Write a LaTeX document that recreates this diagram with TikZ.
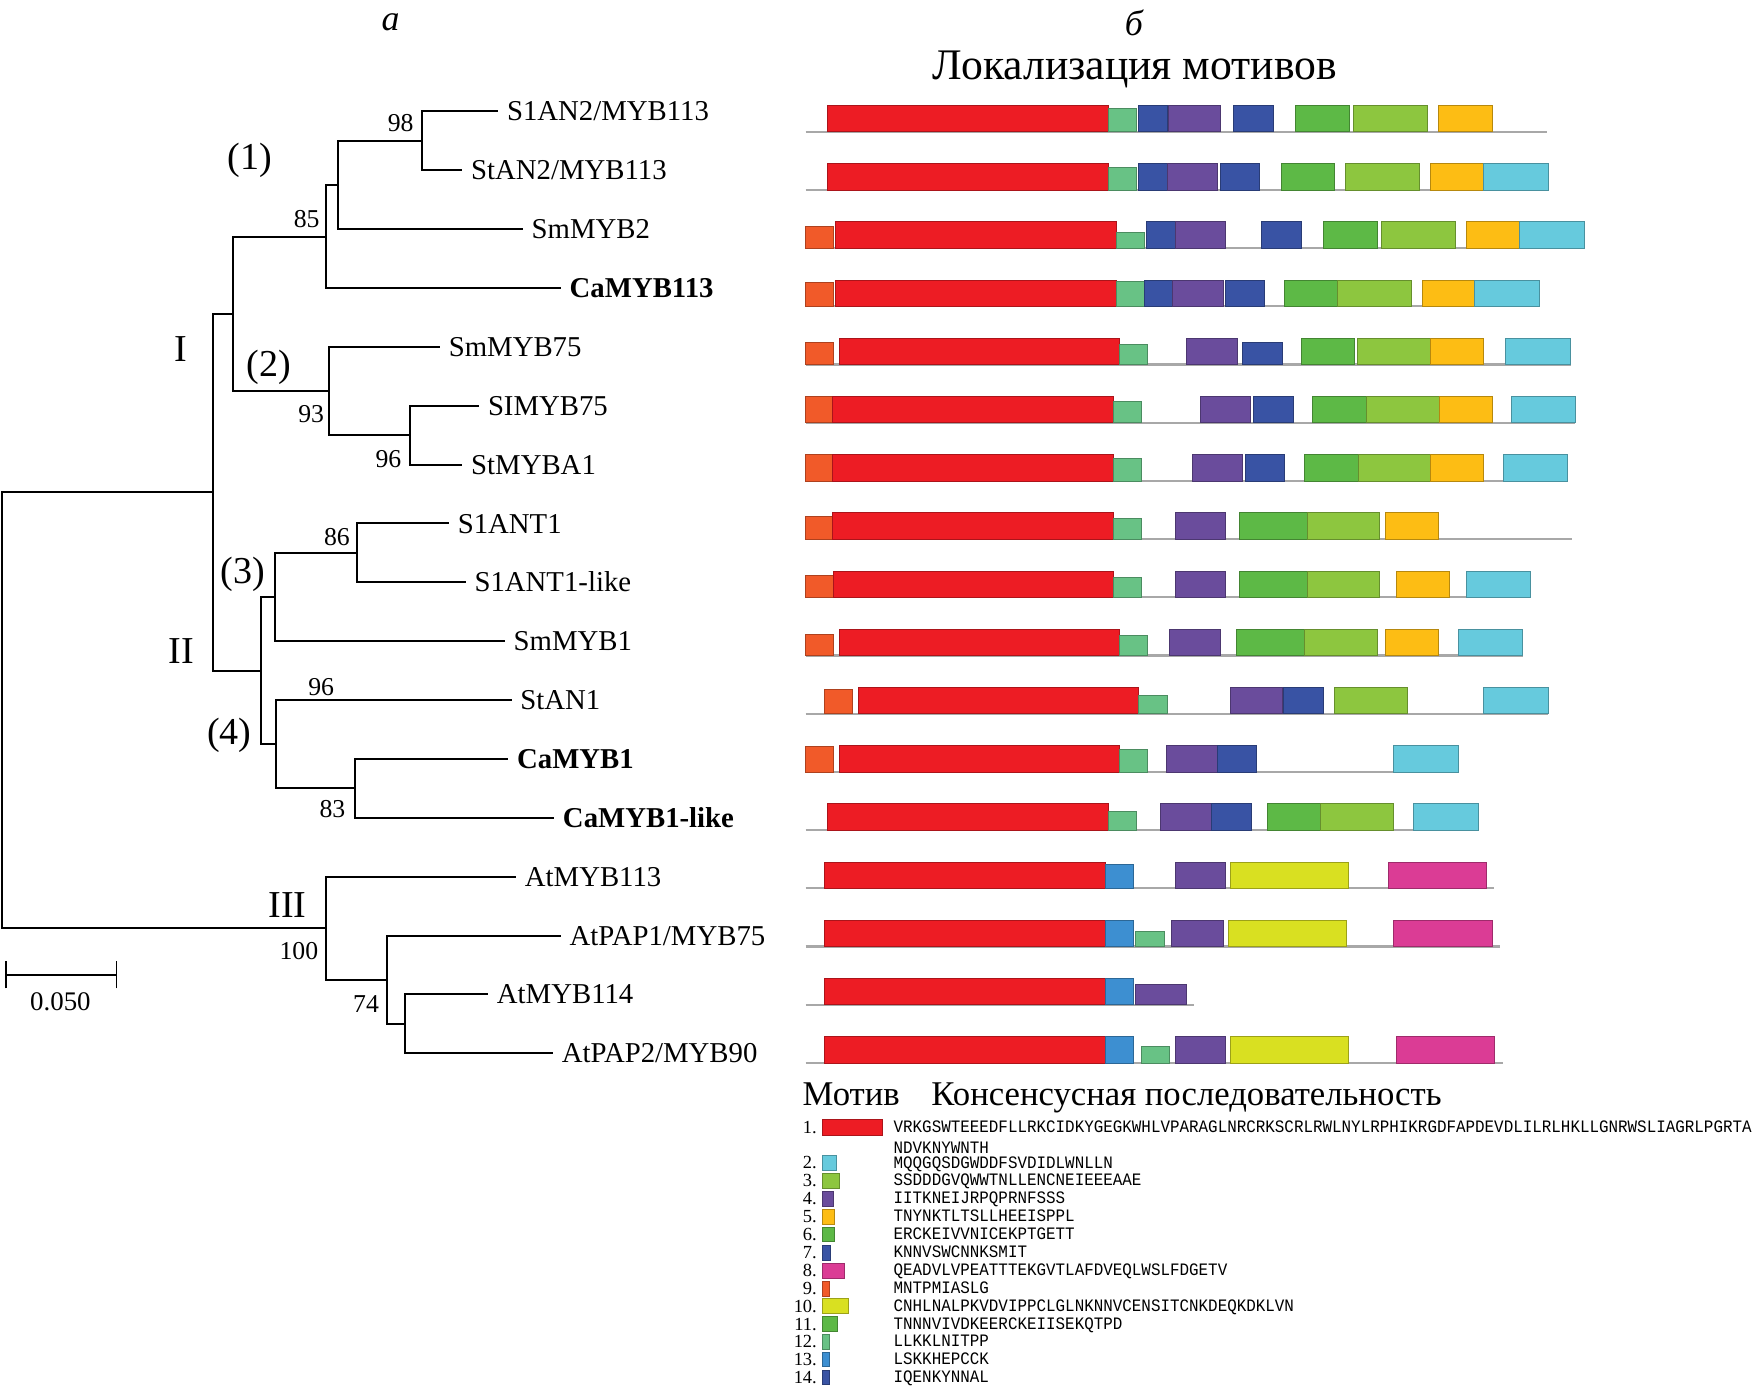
\documentclass[tikz,border=0pt]{standalone}
\usepackage{fontspec}
\setmainfont{Liberation Serif}
\newfontfamily\seqfont[FakeStretch=0.91]{Liberation Mono}
\definecolor{mRD}{HTML}{ED1C24}
\definecolor{mLG}{HTML}{68C285}
\definecolor{mDB}{HTML}{3953A4}
\definecolor{mPU}{HTML}{6A4C9C}
\definecolor{mGR}{HTML}{5DB946}
\definecolor{mYG}{HTML}{8DC63F}
\definecolor{mYE}{HTML}{FDBD14}
\definecolor{mCY}{HTML}{66CADD}
\definecolor{mOR}{HTML}{F15A29}
\definecolor{mMB}{HTML}{3D8FD1}
\definecolor{mLI}{HTML}{D9E021}
\definecolor{mMG}{HTML}{DB3C95}
\definecolor{gl}{HTML}{A8A8A8}
\newcommand\gline[2]{\draw[line width=2pt, gl] (719.7,#1) -- (#2,#1);}
\newcommand\mb[5]{\filldraw[fill=#4, draw=#4!72!black, line width=0.5pt] (#2,#1) rectangle (#3,{#1-23.5*#5});}
\newcommand\sw[4]{\filldraw[fill=#4, draw=#4!72!black, line width=0.5pt] (734.5,{#1-#3}) rectangle (#2,{#1+#3});}
\tikzset{
  br/.style={line width=1.8pt},
  leaf/.style={anchor=west, inner xsep=8pt, inner ysep=0pt, outer sep=0pt, text height=17pt, text depth=0pt, font=\fontsize{25.7}{25.7}\selectfont},
  boot/.style={inner sep=0pt, font=\fontsize{23}{23}\selectfont},
  clade/.style={inner sep=0pt, font=\fontsize{34}{34}\selectfont},
  lnum/.style={anchor=base east, inner sep=0pt, font=\fontsize{16.5}{16.5}\selectfont},
  lseq/.style={anchor=base west, inner sep=0pt, font=\seqfont\fontsize{15.6}{15.6}\selectfont},
}
\begin{document}
\begin{tikzpicture}[x=1pt, y=-1pt]
\useasboundingbox (0,0) rectangle (1568,1243);
% ---------- titles
\node[inner sep=0pt, font=\fontsize{32}{32}\selectfont\itshape] (ta) at (349,20) {а};
\node[inner sep=0pt, font=\fontsize{32}{32}\selectfont\itshape] (tb) at (1013,20) {б};
\node[inner sep=0pt, font=\fontsize{39}{39}\selectfont] (tloc) at (1014,62) {Локализация мотивов};
% ---------- leaves
\node[leaf] (L1) at (445,99.5) {S1AN2/MYB113};
\node[leaf] (L2) at (413,152.1) {StAN2/MYB113};
\node[leaf] (L3) at (467,204.7) {SmMYB2};
\node[leaf] (L4) at (501,257.3) {\bfseries CaMYB113};
\node[leaf] (L5) at (393,309.9) {SmMYB75};
\node[leaf] (L6) at (428,362.5) {SIMYB75};
\node[leaf] (L7) at (413,415.1) {StMYBA1};
\node[leaf] (L8) at (401,467.7) {S1ANT1};
\node[leaf] (L9) at (416,520.3) {S1ANT1-like};
\node[leaf] (L10) at (451,572.9) {SmMYB1};
\node[leaf] (L11) at (457,625.5) {StAN1};
\node[leaf] (L12) at (454,678.1) {\bfseries CaMYB1};
\node[leaf] (L13) at (495,730.7) {\bfseries CaMYB1-like};
\node[leaf] (L14) at (461,783.3) {AtMYB113};
\node[leaf] (L15) at (501,835.9) {AtPAP1/MYB75};
\node[leaf] (L16) at (436,888.5) {AtMYB114};
\node[leaf] (L17) at (494,941.1) {AtPAP2/MYB90};
% ---------- internal nodes
\coordinate (n12) at (377,125.8);
\coordinate (n123) at (302,165.25);
\coordinate (n1234) at (291,211.3);
\coordinate (n67) at (366,388.8);
\coordinate (n567) at (294,349.35);
\coordinate (nI) at (208,280.3);
\coordinate (n89) at (319,494);
\coordinate (n8910) at (246,533.45);
\coordinate (n1213) at (317,704.4);
\coordinate (n111213) at (247,664.95);
\coordinate (nII) at (233,599.2);
\coordinate (nA) at (190,439.75);
\coordinate (n1617) at (362,914.8);
\coordinate (n151617) at (346,875.35);
\coordinate (nIII) at (291,829.3);
\coordinate (root) at (1.5,634.5);
\begin{scope}[br]
\draw (root) |- (nA); \draw (root) |- (nIII);
\draw (nA) |- (nI); \draw (nA) |- (nII);
\draw (nI) |- (n1234); \draw (nI) |- (n567);
\draw (n1234) |- (n123); \draw (n1234) |- (L4);
\draw (n123) |- (n12); \draw (n123) |- (L3);
\draw (n12) |- (L1); \draw (n12) |- (L2);
\draw (n567) |- (L5); \draw (n567) |- (n67);
\draw (n67) |- (L6); \draw (n67) |- (L7);
\draw (nII) |- (n8910); \draw (nII) |- (n111213);
\draw (n8910) |- (n89); \draw (n8910) |- (L10);
\draw (n89) |- (L8); \draw (n89) |- (L9);
\draw (n111213) |- (L11); \draw (n111213) |- (n1213);
\draw (n1213) |- (L12); \draw (n1213) |- (L13);
\draw (nIII) |- (L14); \draw (nIII) |- (n151617);
\draw (n151617) |- (L15); \draw (n151617) |- (n1617);
\draw (n1617) |- (L16); \draw (n1617) |- (L17);
\end{scope}
% bootstrap values
\node[boot] (b98) at (358,110) {98};
\node[boot] (b85) at (274,196) {85};
\node[boot] (b93) at (278,370) {93};
\node[boot] (b96a) at (347,410) {96};
\node[boot] (b86) at (301,480) {86};
\node[boot] (b96b) at (287,614) {96};
\node[boot] (b83) at (297,723) {83};
\node[boot] (b100) at (267,850) {100};
\node[boot] (b74) at (327,897) {74};
% clade labels
\node[clade] (c1) at (223,143) {(1)};
\node[clade] (c2) at (240,328) {(2)};
\node[clade] (c3) at (217,513) {(3)};
\node[clade] (c4) at (205,657) {(4)};
\node[clade] (cI) at (162,312) {I};
\node[clade] (cII) at (162,582) {II};
\node[clade] (cIII) at (257,809) {III};
% scale bar
\coordinate (s1) at (5.5,871);
\coordinate (s2) at (104,871);
\draw[line width=1.5pt] (s1) -- (s2);
\draw[line width=1.5pt] ([yshift=-12pt]s1) -- ([yshift=12pt]s1);
\draw[line width=1.5pt] ([yshift=-12pt]s2) -- ([yshift=12pt]s2);
\node[boot, font=\fontsize{24}{24}\selectfont] (sbl) at (54,895) {0.050};
% ---------- motif bars
% row 1
\gline{117.6}{1382.4}
\mb{117.6}{738.9}{989.8}{mRD}{1}
\mb{117.6}{989.8}{1015.1}{mLG}{.9}
\mb{117.6}{1017.3}{1042.5}{mDB}{1}
\mb{117.6}{1044.2}{1090.3}{mPU}{1}
\mb{117.6}{1101.8}{1137.5}{mDB}{1}
\mb{117.6}{1157.3}{1205.6}{mGR}{1}
\mb{117.6}{1209.4}{1275.3}{mYG}{1}
\mb{117.6}{1285.2}{1333}{mYE}{1}
% row 2
\gline{169.6}{1382.9}
\mb{169.6}{738.9}{989.8}{mRD}{1}
\mb{169.6}{989.8}{1015.1}{mLG}{.84}
\mb{169.6}{1017.3}{1042.5}{mDB}{1}
\mb{169.6}{1042.5}{1087.6}{mPU}{1}
\mb{169.6}{1089.8}{1124.9}{mDB}{1}
\mb{169.6}{1144.7}{1192.4}{mGR}{1}
\mb{169.6}{1201.7}{1267.6}{mYG}{1}
\mb{169.6}{1277.5}{1325.3}{mYE}{1}
\mb{169.6}{1325.3}{1382.9}{mCY}{1}
% row 3
\gline{221.6}{1415.3}
\mb{221.6}{719.7}{744.4}{mOR}{.81}
\mb{221.6}{746.6}{997}{mRD}{1}
\mb{221.6}{997}{1022.2}{mLG}{.61}
\mb{221.6}{1024.4}{1050.2}{mDB}{1}
\mb{221.6}{1050.2}{1094.7}{mPU}{1}
\mb{221.6}{1127.1}{1162.8}{mDB}{1}
\mb{221.6}{1182.5}{1230.3}{mGR}{1}
\mb{221.6}{1234.1}{1300.6}{mYG}{1}
\mb{221.6}{1309.9}{1357.7}{mYE}{1}
\mb{221.6}{1357.7}{1415.3}{mCY}{1}
% row 4
\gline{273.6}{1375.2}
\mb{273.6}{719.7}{744.4}{mOR}{.9}
\mb{273.6}{746.6}{997}{mRD}{1}
\mb{273.6}{997}{1022.2}{mLG}{.94}
\mb{273.6}{1022.2}{1047.5}{mDB}{1}
\mb{273.6}{1047.5}{1092.5}{mPU}{1}
\mb{273.6}{1094.7}{1129.8}{mDB}{1}
\mb{273.6}{1147.4}{1195.2}{mGR}{1}
\mb{273.6}{1195.2}{1260.5}{mYG}{1}
\mb{273.6}{1270.4}{1317.6}{mYE}{1}
\mb{273.6}{1317.6}{1375.2}{mCY}{1}
% row 5
\gline{325.6}{1403.2}
\mb{325.6}{719.7}{744.4}{mOR}{.85}
\mb{325.6}{749.4}{999.7}{mRD}{1}
\mb{325.6}{999.7}{1025}{mLG}{.78}
\mb{325.6}{1059.6}{1105.1}{mPU}{1}
\mb{325.6}{1110.1}{1145.2}{mDB}{.85}
\mb{325.6}{1162.2}{1210}{mGR}{1}
\mb{325.6}{1212.7}{1278.1}{mYG}{1}
\mb{325.6}{1278.1}{1325.3}{mYE}{1}
\mb{325.6}{1345}{1403.2}{mCY}{1}
% row 6
\gline{377.6}{1407.6}
\mb{377.6}{719.7}{743.9}{mOR}{1}
\mb{377.6}{743.9}{994.8}{mRD}{1}
\mb{377.6}{994.8}{1020}{mLG}{.8}
\mb{377.6}{1072.2}{1117.2}{mPU}{1}
\mb{377.6}{1120}{1155.1}{mDB}{1}
\mb{377.6}{1172.7}{1220.4}{mGR}{1}
\mb{377.6}{1220.4}{1285.7}{mYG}{1}
\mb{377.6}{1285.7}{1333}{mYE}{1}
\mb{377.6}{1350}{1407.6}{mCY}{1}
% row 7
\gline{429.6}{1400.5}
\mb{429.6}{719.7}{743.9}{mOR}{1}
\mb{429.6}{743.9}{994.8}{mRD}{1}
\mb{429.6}{994.8}{1020}{mLG}{.87}
\mb{429.6}{1065}{1110.1}{mPU}{1}
\mb{429.6}{1112.3}{1147.4}{mDB}{1}
\mb{429.6}{1165}{1213.3}{mGR}{1}
\mb{429.6}{1213.3}{1278.1}{mYG}{1}
\mb{429.6}{1278.1}{1325.3}{mYE}{1}
\mb{429.6}{1342.8}{1400.5}{mCY}{1}
% row 8
\gline{481.6}{1404.9}
\mb{481.6}{719.7}{743.9}{mOR}{.86}
\mb{481.6}{743.9}{994.8}{mRD}{1}
\mb{481.6}{994.8}{1020}{mLG}{.79}
\mb{481.6}{1050.2}{1094.7}{mPU}{1}
\mb{481.6}{1107.3}{1168.3}{mGR}{1}
\mb{481.6}{1168.3}{1232.5}{mYG}{1}
\mb{481.6}{1237.4}{1285.2}{mYE}{1}
% row 9
\gline{533.6}{1367.5}
\mb{533.6}{719.7}{744.4}{mOR}{.84}
\mb{533.6}{744.4}{994.8}{mRD}{1}
\mb{533.6}{994.8}{1020}{mLG}{.76}
\mb{533.6}{1050.2}{1094.7}{mPU}{1}
\mb{533.6}{1107.3}{1168.3}{mGR}{1}
\mb{533.6}{1168.3}{1232.5}{mYG}{1}
\mb{533.6}{1247.9}{1295.1}{mYE}{1}
\mb{533.6}{1310.4}{1367.5}{mCY}{1}
% row 10
\gline{585.6}{1360.4}
\mb{585.6}{719.7}{744.4}{mOR}{.8}
\mb{585.6}{749.4}{999.7}{mRD}{1}
\mb{585.6}{999.7}{1025}{mLG}{.76}
\mb{585.6}{1044.7}{1089.8}{mPU}{1}
\mb{585.6}{1104.6}{1165}{mGR}{1}
\mb{585.6}{1165}{1230.3}{mYG}{1}
\mb{585.6}{1237.4}{1285.2}{mYE}{1}
\mb{585.6}{1302.8}{1360.4}{mCY}{1}
% row 11
\gline{637.6}{1382.9}
\mb{637.6}{736.7}{761.4}{mOR}{.91}
\mb{637.6}{766.9}{1017.3}{mRD}{1}
\mb{637.6}{1017.3}{1042.5}{mLG}{.7}
\mb{637.6}{1099.6}{1145.2}{mPU}{1}
\mb{637.6}{1146.8}{1182.5}{mDB}{1}
\mb{637.6}{1192.4}{1257.7}{mYG}{1}
\mb{637.6}{1325.3}{1382.9}{mCY}{1}
% row 12
\gline{689.6}{1302.8}
\mb{689.6}{719.7}{744.4}{mOR}{.97}
\mb{689.6}{749.4}{999.7}{mRD}{1}
\mb{689.6}{999.7}{1025}{mLG}{.84}
\mb{689.6}{1042}{1087.6}{mPU}{1}
\mb{689.6}{1087.6}{1122.7}{mDB}{1}
\mb{689.6}{1245.1}{1302.8}{mCY}{1}
% row 13
\gline{741.6}{1320.3}
\mb{741.6}{739.5}{989.8}{mRD}{1}
\mb{741.6}{989.8}{1015.1}{mLG}{.71}
\mb{741.6}{1037}{1082.6}{mPU}{1}
\mb{741.6}{1082.6}{1117.8}{mDB}{1}
\mb{741.6}{1132}{1179.8}{mGR}{1}
\mb{741.6}{1179.8}{1245.1}{mYG}{1}
\mb{741.6}{1262.7}{1320.3}{mCY}{1}
% row 14
\gline{793.6}{1335.2}
\mb{793.6}{736.7}{987.1}{mRD}{1}
\mb{793.6}{987.1}{1012.3}{mMB}{.93}
\mb{793.6}{1049.7}{1094.7}{mPU}{1}
\mb{793.6}{1099.6}{1205}{mLI}{1}
\mb{793.6}{1240.2}{1328}{mMG}{1}
% row 15
\gline{845.6}{1340.1}
\mb{845.6}{736.7}{987.1}{mRD}{1}
\mb{845.6}{987.1}{1012.3}{mMB}{1}
\mb{845.6}{1014.5}{1039.8}{mLG}{.57}
\mb{845.6}{1046.9}{1092.5}{mPU}{1}
\mb{845.6}{1097.4}{1202.8}{mLI}{1}
\mb{845.6}{1245.1}{1333}{mMG}{1}
% row 16
\gline{897.6}{1067.2}
\mb{897.6}{736.7}{987.1}{mRD}{1}
\mb{897.6}{987.1}{1012.3}{mMB}{1}
\mb{897.6}{1014.5}{1060.1}{mPU}{.76}
% row 17
\gline{949.6}{1342.8}
\mb{949.6}{736.7}{987.1}{mRD}{1}
\mb{949.6}{987.1}{1012.3}{mMB}{1}
\mb{949.6}{1019.5}{1044.7}{mLG}{.64}
\mb{949.6}{1049.7}{1094.7}{mPU}{1}
\mb{949.6}{1099.6}{1205}{mLI}{1}
\mb{949.6}{1247.9}{1335.2}{mMG}{1}
% ---------- legend
\node[anchor=base west, inner sep=0pt, font=\fontsize{31}{31}\selectfont] (hm) at (717,988) {Мотив};
\node[anchor=base west, inner sep=0pt, font=\fontsize{31}{31}\selectfont] (hc) at (832,988) {Консенсусная последовательность};
\sw{1007.2}{788.4}{7}{mRD}
\sw{1038.8}{747.2}{6.5}{mCY}
\sw{1054.9}{749.9}{6.5}{mYG}
\sw{1071}{744.4}{6.5}{mPU}
\sw{1087}{745.5}{6.5}{mYE}
\sw{1102.8}{745.5}{6.5}{mGR}
\sw{1119.2}{742.2}{6.5}{mDB}
\sw{1135.3}{754.3}{6.5}{mMG}
\sw{1151.3}{740.6}{6.5}{mOR}
\sw{1166.8}{758.2}{6.5}{mLI}
\sw{1182.9}{748.3}{6.5}{mGR}
\sw{1198.7}{740.6}{6.5}{mLG}
\sw{1214.5}{740.6}{6.5}{mMB}
\sw{1230.6}{740.6}{6.5}{mDB}
\node[lnum] (k1) at (730,1012.6) {1.};
\node[lnum] (k2) at (730,1044.2) {2.};
\node[lnum] (k3) at (730,1060.3) {3.};
\node[lnum] (k4) at (730,1076.4) {4.};
\node[lnum] (k5) at (730,1092.4) {5.};
\node[lnum] (k6) at (730,1108.2) {6.};
\node[lnum] (k7) at (730,1124.6) {7.};
\node[lnum] (k8) at (730,1140.7) {8.};
\node[lnum] (k9) at (730,1156.7) {9.};
\node[lnum] (k10) at (730,1172.2) {10.};
\node[lnum] (k11) at (730,1188.3) {11.};
\node[lnum] (k12) at (730,1204.1) {12.};
\node[lnum] (k13) at (730,1219.9) {13.};
\node[lnum] (k14) at (730,1236) {14.};
\node[lseq] (q1) at (798.2,1011.7) {VRKGSWTEEEDFLLRKCIDKYGEGKWHLVPARAGLNRCRKSCRLRWLNYLRPHIKRGDFAPDEVDLILRLHKLLGNRWSLIAGRLPGRTA};
\node[lseq] (q1b) at (798.2,1031) {NDVKNYWNTH};
\node[lseq] (q2) at (798.2,1043.6) {MQQGQSDGWDDFSVDIDLWNLLN};
\node[lseq] (q3) at (798.2,1059.4) {SSDDDGVQWWTNLLENCNEIEEEAAE};
\node[lseq] (q4) at (798.2,1075.5) {IITKNEIJRPQPRNFSSS};
\node[lseq] (q5) at (798.2,1091.5) {TNYNKTLTSLLHEEISPPL};
\node[lseq] (q6) at (798.2,1107.3) {ERCKEIVVNICEKPTGETT};
\node[lseq] (q7) at (798.2,1123.7) {KNNVSWCNNKSMIT};
\node[lseq] (q8) at (798.2,1139.8) {QEADVLVPEATTTEKGVTLAFDVEQLWSLFDGETV};
\node[lseq] (q9) at (798.2,1155.8) {MNTPMIASLG};
\node[lseq] (q10) at (798.2,1171.3) {CNHLNALPKVDVIPPCLGLNKNNVCENSITCNKDEQKDKLVN};
\node[lseq] (q11) at (798.2,1187.4) {TNNNVIVDKEERCKEIISEKQTPD};
\node[lseq] (q12) at (798.2,1203.2) {LLKKLNITPP};
\node[lseq] (q13) at (798.2,1219) {LSKKHEPCCK};
\node[lseq] (q14) at (798.2,1235.1) {IQENKYNNAL};
\end{tikzpicture}
\end{document}
